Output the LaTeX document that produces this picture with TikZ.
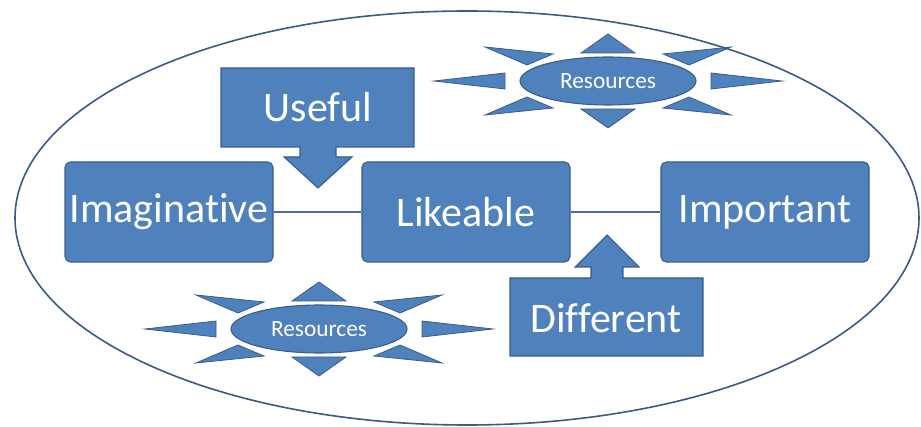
\documentclass[tikz,border=0pt]{standalone}
\usepackage{fontspec}
\setmainfont{Carlito}[Ligatures={NoCommon}]
\usetikzlibrary{shapes.geometric}
\definecolor{boxfill}{HTML}{4F81BD}
\definecolor{boxline}{HTML}{385D8A}
\definecolor{ringline}{HTML}{3B5A86}
\tikzset{
  mainbox/.style={draw=boxline, line width=0.8pt, fill=boxfill, rounded corners=4pt,
    minimum width=156pt, minimum height=75pt, inner sep=0pt, text=white,
    font=\fontsize{31.5}{36}\selectfont},
  calloutshape/.style={draw=boxline, line width=0.8pt, fill=boxfill, line join=miter},
  callouttext/.style={text=white, inner sep=0pt, font=\fontsize{31.5}{36}\selectfont},
  ray/.style={draw=boxline, line width=0.6pt, fill=boxfill},
  resell/.style={ellipse, draw=boxline, line width=0.8pt, fill=boxfill,
    minimum width=132pt, minimum height=36pt, inner sep=0pt, text=white,
    font=\fontsize{17.5}{20}\selectfont},
  link/.style={draw=boxfill!85!black, line width=1.1pt},
  ring/.style={draw=ringline, line width=1.2pt}
}
\newcommand\sunrays{%
  \path[ray] (0,-47) -- (-27,-28) -- (27,-28) -- cycle;
  \path[ray] (0,47) -- (-27,28) -- (27,28) -- cycle;
  \path[ray] (-174,0) -- (-103,-8) -- (-103,8) -- cycle;
  \path[ray] (174,0) -- (103,-8) -- (103,8) -- cycle;
  \path[ray] (-123,-34) -- (-55,-27) -- (-81,-16) -- cycle;
  \path[ray] (123,-34) -- (55,-27) -- (81,-16) -- cycle;
  \path[ray] (-123,34) -- (-55,27) -- (-81,16) -- cycle;
  \path[ray] (123,34) -- (55,27) -- (81,16) -- cycle;
}
\begin{document}
\begin{tikzpicture}[x=0.75pt, y=-0.75pt]
\useasboundingbox (0,0) rectangle (921,427);
\fill[white] (0,0) rectangle (921,427);

% main boxes
\node[mainbox] (imag) at (169,212) {Imaginative};
\node[mainbox] (like) at (466,212) {Likeable};
\node[mainbox] (impo) at (765,212) {Important};
\draw[link] (imag.east) -- (like.west);
\draw[link] (like.east) -- (impo.west);

% Useful callout
\path[calloutshape] (221,68) -- (414,68) -- (414,147) -- (336,147) -- (336,157)
  -- (352,157) -- (318,188) -- (284,157) -- (300,157) -- (300,147) -- (221,147) -- cycle;
\node[callouttext] (useful) at (318,107) {Useful};

% Different callout
\path[calloutshape] (510,356) -- (703,356) -- (703,278) -- (623,278) -- (623,267)
  -- (639,267) -- (607,235) -- (575,267) -- (591,267) -- (591,278) -- (510,278) -- cycle;
\node[callouttext] (different) at (606,318) {Different};

% Resources bursts
\begin{scope}[shift={(608,81)}]
  \sunrays
  \node[resell] (res1) at (0,0) {Resources};
\end{scope}
\begin{scope}[shift={(319,329)}]
  \sunrays
  \node[resell] (res2) at (0,0) {Resources};
\end{scope}

% outer ellipse
\draw[ring] (467,218) ellipse [x radius=452, y radius=207];
\end{tikzpicture}
\end{document}
